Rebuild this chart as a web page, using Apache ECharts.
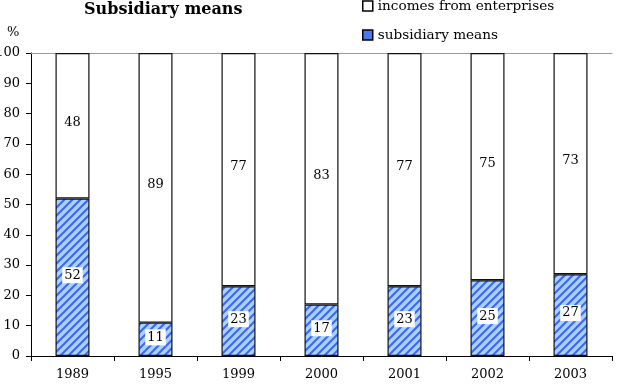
<!DOCTYPE html>
<html>
<head>
<meta charset="utf-8">
<script src="https://cdn.jsdelivr.net/npm/echarts@6/dist/echarts.min.js"></script>
<style>html,body{margin:0;padding:0;background:#fff}#c{width:619px;height:388px}</style>
</head>
<body>
<div id="c"></div>
<script>
const years = ['1989','1995','1999','2000','2001','2002','2003'];
const subsidiaryMeans = [52, 11, 23, 17, 23, 25, 27];
const incomesFromEnterprises = [48, 89, 77, 83, 77, 75, 73];
const yTicks = [0, 10, 20, 30, 40, 50, 60, 70, 80, 90, 100];

const FONT = 'DejaVu Serif';

// hatch pattern
const pc = document.createElement('canvas');
pc.width = 8; pc.height = 8;
const g = pc.getContext('2d');
g.fillStyle = '#a8d2ff';
g.fillRect(0, 0, 8, 8);
g.strokeStyle = '#3f66f2';
g.lineWidth = 2.1;
g.beginPath();
for (let k = -2; k <= 2; k++) {
  g.moveTo(k * 8 - 1, 9);
  g.lineTo(k * 8 + 9, -1);
}
g.stroke();
const hatch = { image: pc, repeat: 'repeat' };

const chart = echarts.init(document.getElementById('c'), null, { renderer: 'canvas' });
chart.setOption({
  animation: false,
  backgroundColor: '#fff',
  textStyle: { fontFamily: FONT, color: '#000' },
  title: {
    text: 'Subsidiary means',
    left: 84, top: 2, padding: 0,
    textStyle: { fontFamily: FONT, fontSize: 16, fontWeight: 'bold', color: '#000' }
  },
  graphic: [{
    type: 'text', left: 7, top: 26,
    style: { text: '%', font: '13px ' + FONT, fill: '#000' }
  }],
  legend: {
    orient: 'vertical',
    left: 362, top: -1, padding: 0,
    itemWidth: 10, itemHeight: 10, itemGap: 15,
    icon: 'rect',
    textStyle: { fontFamily: FONT, fontSize: 13.6, color: '#000', padding: [0, 0, 0, 0] },
    data: [
      { name: 'incomes from enterprises', itemStyle: { color: '#fff', borderColor: '#000', borderWidth: 1.5 } },
      { name: 'subsidiary means', itemStyle: { color: '#4a78f0', borderColor: '#000', borderWidth: 1.5 } }
    ]
  },
  grid: { left: 31, right: 7, top: 53, bottom: 32, containLabel: false, outerBoundsMode: 'none' },
  xAxis: [{
    type: 'category',
    data: years,
    axisLine: { lineStyle: { color: '#000', width: 1 } },
    axisTick: { show: true, length: 5, lineStyle: { color: '#000' } },
    axisLabel: { fontFamily: FONT, fontSize: 13, color: '#000', margin: 12 }
  }, {
    type: 'category', position: 'top', data: years,
    axisLine: { show: true, lineStyle: { color: '#999', width: 1 } },
    axisTick: { show: false }, axisLabel: { show: false }
  }],
  yAxis: {
    type: 'value', min: 0, max: 100, interval: 10,
    axisLine: { show: true, lineStyle: { color: '#000' } },
    axisTick: { show: true, length: 5, lineStyle: { color: '#000' } },
    splitLine: { show: false },
    axisLabel: { fontFamily: FONT, fontSize: 13, color: '#000', margin: 11,
      formatter: v => yTicks.includes(v) ? String(v) : '' }
  },
  series: [{
    name: 'subsidiary means',
    type: 'bar', stack: 'a', barWidth: 34,
    data: subsidiaryMeans,
    itemStyle: { color: hatch, borderColor: '#111', borderWidth: 1.2 },
    label: {
      show: true, position: 'inside', offset: [0, -2],
      fontFamily: FONT, fontSize: 13, color: '#000',
      backgroundColor: '#fff', padding: [2, 2, 1, 2]
    }
  }, {
    name: 'incomes from enterprises',
    type: 'bar', stack: 'a', barWidth: 34,
    data: incomesFromEnterprises,
    itemStyle: { color: '#fff', borderColor: '#111', borderWidth: 1.2 },
    label: {
      show: true, position: 'inside', offset: [0, -3],
      fontFamily: FONT, fontSize: 13, color: '#000'
    }
  }]
});
</script>
</body>
</html>
